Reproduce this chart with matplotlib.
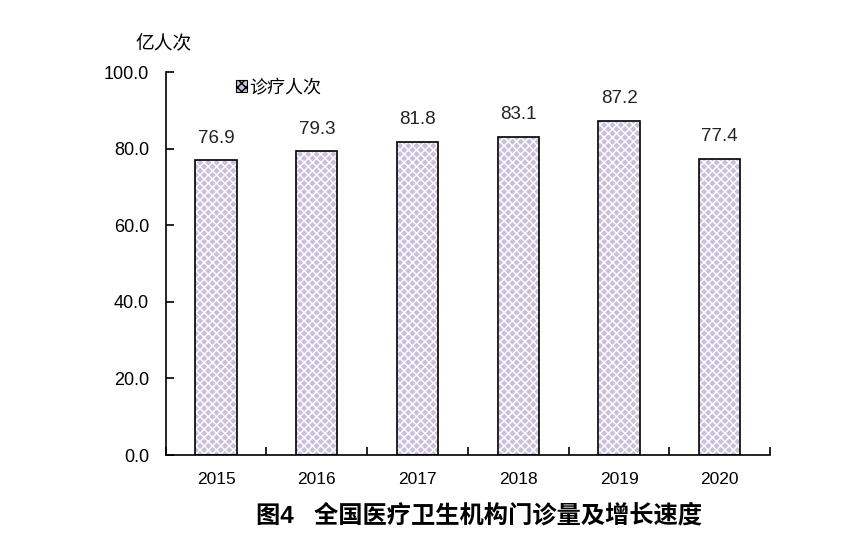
import numpy as np
import matplotlib.pyplot as plt
from matplotlib.patches import Patch

plt.rcParams['font.family'] = ['Liberation Sans', 'Noto Sans CJK SC', 'DejaVu Sans']

# data
years = ['2015', '2016', '2017', '2018', '2019', '2020']
visits = [76.9, 79.3, 81.8, 83.1, 87.2, 77.4]

fill = '#cbc0dc'

fig = plt.figure(figsize=(8.5, 5.44), dpi=100)
ax = fig.add_axes([0.195, 0.1636, 0.711, 0.704])

x = np.arange(len(years))
# hatch pattern in white on purple, then black outline on top
ax.bar(x, visits, width=0.41, color=fill, edgecolor='white', hatch='xxxx', linewidth=0, zorder=2)
ax.bar(x, visits, width=0.41, fill=False, edgecolor='black', linewidth=1.2, zorder=3)

for xi, v in zip(x, visits):
    ax.text(xi, v + 3.6, f'{v:.1f}', ha='center', va='bottom', fontsize=13.5, color='#222222')

ax.set_xlim(-0.5, len(years) - 0.5)
ax.set_ylim(0, 100)
ax.set_yticks(np.arange(0, 101, 20))
ax.set_yticklabels([f'{t:.1f}' for t in np.arange(0, 101, 20)], fontsize=13)
ax.set_xticks(x)
ax.set_xticklabels(years, fontsize=12.5)
ax.tick_params(axis='x', length=0, pad=12)
ax.set_xticks(np.arange(-0.5, len(years)), minor=True)
ax.tick_params(axis='x', which='minor', direction='in', length=6, width=1.2)
ax.tick_params(axis='y', direction='in', length=6, width=1.2, pad=12)

for s in ['top', 'right']:
    ax.spines[s].set_visible(False)
for s in ['left', 'bottom']:
    ax.spines[s].set_linewidth(1.2)

handle = Patch(facecolor=fill, edgecolor='black', hatch='xxxx', linewidth=0.8)
ax.legend([handle], ['诊疗人次'], loc='upper left', bbox_to_anchor=(0.105, 1.0),
          frameon=False, fontsize=13, handlelength=0.6, handleheight=0.6,
          handletextpad=0.1, borderaxespad=0)

fig.text(0.192, 0.918, '亿人次', fontsize=13.5, ha='center', va='center')
fig.text(0.563, 0.052, '图4   全国医疗卫生机构门诊量及增长速度', fontsize=17.5,
         fontweight='bold', ha='center', va='center')

fig.savefig('out.png', dpi=100)
